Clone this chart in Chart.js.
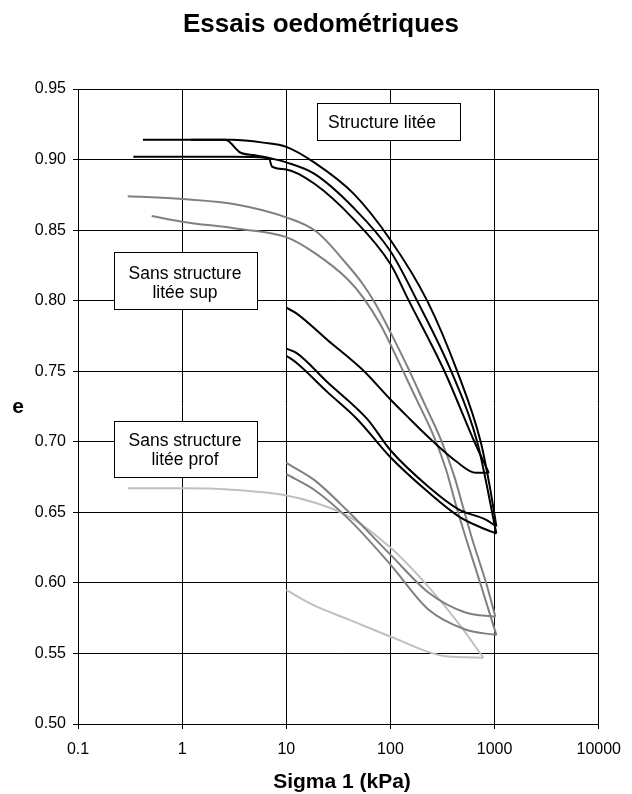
<!DOCTYPE html>
<html>
<head>
<meta charset="utf-8">
<title>Essais oedométriques</title>
<script src="https://cdn.jsdelivr.net/npm/chart.js@4.4.1/dist/chart.umd.min.js"></script>
<style>
  html, body { margin: 0; padding: 0; background: #ffffff; }
  #wrap { width: 632px; height: 794px; }
</style>
</head>
<body>
<div id="wrap"><canvas id="oedoChart" width="632" height="794"></canvas></div>
<script>
// Axis ticks
const xTicks = [0.1, 1, 10, 100, 1000, 10000];
const yTicks = [0.50, 0.55, 0.60, 0.65, 0.70, 0.75, 0.80, 0.85, 0.90, 0.95];

// Structure litée (black) - loading branches
const sigmaLoadA = [0.42, 1, 3, 6, 10, 18.5, 44, 100, 225, 437, 735, 900, 1040];
const eLoadA = [0.914, 0.914, 0.914, 0.912, 0.909, 0.898, 0.876, 0.843, 0.800, 0.750, 0.700, 0.668, 0.640];
const sigmaLoadB = [1.2, 2.6, 3.6, 5, 7, 10, 18.5, 44, 100, 180, 383, 680, 1040];
const eLoadB = [0.914, 0.914, 0.905, 0.903, 0.901, 0.898, 0.890, 0.866, 0.835, 0.800, 0.750, 0.700, 0.635];
const sigmaLoadC = [0.34, 1, 3, 6.8, 7.3, 10, 18.5, 44, 100, 150, 330, 640, 880];
const eLoadC = [0.902, 0.902, 0.902, 0.901, 0.895, 0.893, 0.883, 0.858, 0.826, 0.800, 0.750, 0.700, 0.678];
// Structure litée (black) - unloading branches
const sigmaUnloadA = [10, 12.5, 25, 60, 100, 233, 455, 815, 1040];
const eUnloadA = [0.766, 0.763, 0.742, 0.716, 0.694, 0.668, 0.652, 0.645, 0.640];
const sigmaUnloadB = [10, 12.5, 25, 48, 100, 233, 455, 815, 1040];
const eUnloadB = [0.761, 0.756, 0.735, 0.716, 0.689, 0.664, 0.647, 0.638, 0.635];
const sigmaUnloadC = [10, 12.5, 25, 54, 100, 145, 250, 430, 660, 880];
const eUnloadC = [0.795, 0.791, 0.772, 0.751, 0.730, 0.718, 0.701, 0.686, 0.678, 0.678];

// Sans structure litée sup (dark grey)
const sigmaSupLoad1 = [0.3, 1, 3.4, 10, 19.4, 38, 54, 71.5, 101, 144, 212, 307, 408, 497, 604, 836, 1018];
const eSupLoad1 = [0.874, 0.872, 0.868, 0.859, 0.849, 0.826, 0.812, 0.798, 0.777, 0.754, 0.727, 0.701, 0.676, 0.654, 0.632, 0.599, 0.576];
const sigmaSupLoad2 = [0.51, 1, 3.4, 10, 18.5, 39, 55, 81.5, 123, 178, 264, 343, 426, 529, 734, 1040];
const eSupLoad2 = [0.860, 0.856, 0.851, 0.845, 0.834, 0.815, 0.802, 0.782, 0.755, 0.730, 0.703, 0.680, 0.655, 0.632, 0.599, 0.563];
const sigmaSupUnload1 = [10, 18.5, 40, 100, 233, 525, 1018];
const eSupUnload1 = [0.685, 0.673, 0.650, 0.620, 0.593, 0.579, 0.576];
const sigmaSupUnload2 = [10, 18.5, 40, 100, 233, 525, 1040];
const eSupUnload2 = [0.677, 0.666, 0.645, 0.613, 0.581, 0.567, 0.563];

// Sans structure litée prof (light grey)
const sigmaProfLoad = [0.3, 1, 3, 10, 18.5, 40, 100, 233, 455, 780];
const eProfLoad = [0.667, 0.667, 0.666, 0.662, 0.657, 0.647, 0.625, 0.597, 0.571, 0.547];
const sigmaProfUnload = [10, 18.5, 40, 100, 340, 780];
const eProfUnload = [0.595, 0.584, 0.574, 0.562, 0.548, 0.547];

document.addEventListener("DOMContentLoaded", function () {
  const ctx = document.getElementById('oedoChart').getContext('2d');

  const BLACK = '#000000';
  const DARK_GREY = '#808080';
  const LIGHT_GREY = '#c0c0c0';

  // build {x, y} points for one branch
  function toPoints(sigma, e) {
    return sigma.map((s, i) => ({ x: s, y: e[i] }));
  }

  function branch(label, sigma, e, color) {
    return {
      label: label,
      data: toPoints(sigma, e),
      borderColor: color,
      borderWidth: 2,
      showLine: true,
      fill: false,
      pointRadius: 0,
      cubicInterpolationMode: 'monotone'
    };
  }

  // titles and text boxes drawn on top of the chart
  const labelsPlugin = {
    id: 'labelsPlugin',
    afterDraw(chart) {
      const c = chart.ctx;
      c.save();
      c.fillStyle = '#000';

      c.font = 'bold 26px Arial, "Liberation Sans", sans-serif';
      c.textAlign = 'center';
      c.textBaseline = 'alphabetic';
      c.fillText('Essais oedométriques', 321, 32);

      c.font = 'bold 21px Arial, "Liberation Sans", sans-serif';
      c.fillText('Sigma 1 (kPa)', 342, 788);
      c.fillText('e', 18, 413);

      function box(x, y, w, h, lines, tx, ty, align) {
        c.fillStyle = '#fff';
        c.fillRect(x, y, w, h);
        c.strokeStyle = '#000';
        c.lineWidth = 1;
        c.strokeRect(x + 0.5, y + 0.5, w, h);
        c.fillStyle = '#000';
        c.font = '17.5px Arial, "Liberation Sans", sans-serif';
        c.textAlign = align;
        c.textBaseline = 'alphabetic';
        lines.forEach((t, i) => c.fillText(t, tx, ty + i * 18.5));
      }

      box(317, 103, 143, 37, ['Structure litée'], 328, 128, 'left');
      box(114, 252, 143, 57, ['Sans structure', 'litée sup'], 185, 279, 'center');
      box(114, 421, 143, 56, ['Sans structure', 'litée prof'], 185, 446, 'center');
      c.restore();
    }
  };

  new Chart(ctx, {
    type: 'scatter',
    data: {
      datasets: [
        branch('Structure litée A', sigmaLoadA, eLoadA, BLACK),
        branch('Structure litée B', sigmaLoadB, eLoadB, BLACK),
        branch('Structure litée C', sigmaLoadC, eLoadC, BLACK),
        branch('Décharge A', sigmaUnloadA, eUnloadA, BLACK),
        branch('Décharge B', sigmaUnloadB, eUnloadB, BLACK),
        branch('Décharge C', sigmaUnloadC, eUnloadC, BLACK),
        branch('Sup 1', sigmaSupLoad1, eSupLoad1, DARK_GREY),
        branch('Sup 2', sigmaSupLoad2, eSupLoad2, DARK_GREY),
        branch('Sup décharge 1', sigmaSupUnload1, eSupUnload1, DARK_GREY),
        branch('Sup décharge 2', sigmaSupUnload2, eSupUnload2, DARK_GREY),
        branch('Prof', sigmaProfLoad, eProfLoad, LIGHT_GREY),
        branch('Prof décharge', sigmaProfUnload, eProfUnload, LIGHT_GREY)
      ]
    },
    options: {
      responsive: false,
      animation: false,
      layout: {
        padding: { top: 89, right: 25, bottom: 0, left: 0 }
      },
      plugins: {
        legend: { display: false },
        tooltip: { enabled: false }
      },
      scales: {
        x: {
          type: 'logarithmic',
          min: 0.1,
          max: 10000,
          afterBuildTicks: function (scale) {
            scale.ticks = xTicks.map(v => ({ value: v }));
          },
          afterFit: function (scale) {
            scale.height = 70;
          },
          ticks: {
            color: '#000',
            font: { family: 'Arial, "Liberation Sans", sans-serif', size: 16 },
            padding: 11,
            maxRotation: 0,
            autoSkip: false,
            callback: function (value) { return String(value); }
          },
          grid: { color: '#000', lineWidth: 1, tickLength: 5 },
          border: { color: '#000', width: 1 }
        },
        y: {
          type: 'linear',
          min: 0.5,
          max: 0.95,
          afterBuildTicks: function (scale) {
            scale.ticks = yTicks.map(v => ({ value: v }));
          },
          afterFit: function (scale) {
            scale.width = 78;
          },
          ticks: {
            color: '#000',
            font: { family: 'Arial, "Liberation Sans", sans-serif', size: 16 },
            padding: 7,
            autoSkip: false,
            callback: function (value) { return value.toFixed(2); }
          },
          grid: { color: '#000', lineWidth: 1, tickLength: 5 },
          border: { color: '#000', width: 1 }
        }
      }
    },
    plugins: [labelsPlugin]
  });
});
</script>
</body>
</html>
